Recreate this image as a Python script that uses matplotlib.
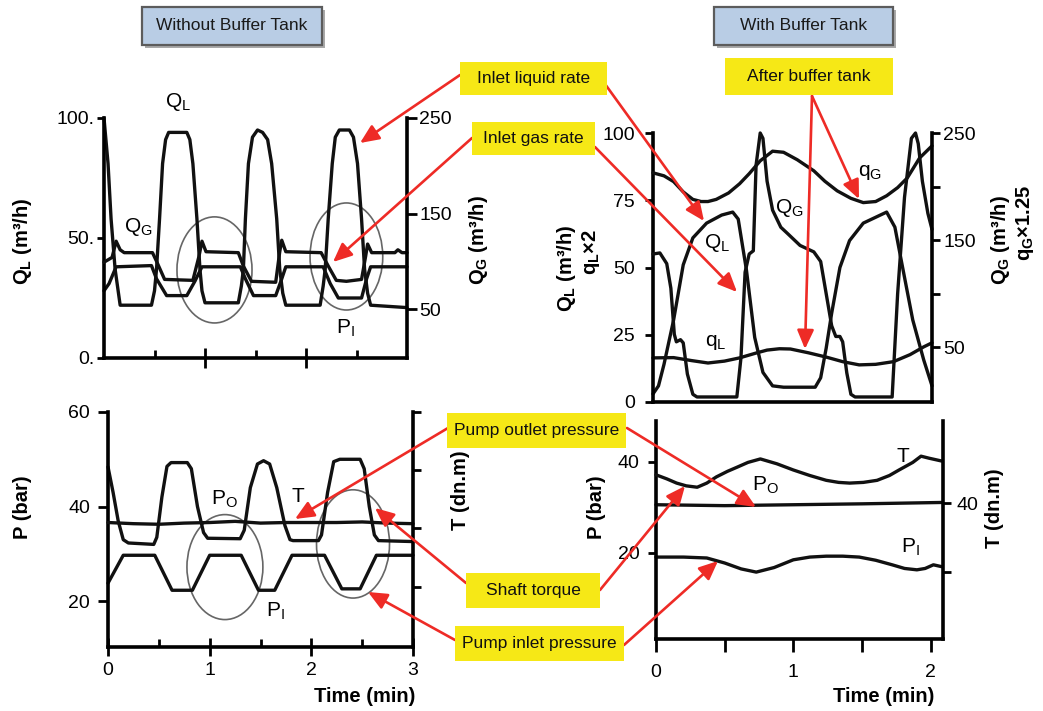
import matplotlib
matplotlib.use('Agg')
import matplotlib.pyplot as plt
from matplotlib.patches import Ellipse, Rectangle, FancyArrowPatch

plt.rcParams['font.family'] = ['Liberation Sans', 'DejaVu Sans']
plt.rcParams['mathtext.fontset'] = 'custom'
plt.rcParams['mathtext.rm'] = 'Liberation Sans'
plt.rcParams['mathtext.it'] = 'Liberation Sans:italic'
plt.rcParams['mathtext.bf'] = 'Liberation Sans:bold'

# ---------------- data: top-left (without buffer tank) ----------------
tl_ql_t = [0.0, 0.04, 0.07, 0.11, 0.16, 0.47, 0.50, 0.52, 0.55, 0.58, 0.61, 0.64, 0.82, 0.85,
           0.88, 0.92, 0.95, 0.97, 1.0, 1.33, 1.36, 1.38, 1.40, 1.43, 1.47, 1.52, 1.57, 1.62,
           1.66, 1.71, 1.74, 1.77, 1.80, 2.14, 2.17, 2.19, 2.22, 2.26, 2.29, 2.33, 2.43, 2.47,
           2.51, 2.55, 2.58, 2.61, 2.64, 3.0]
tl_ql = [100, 81, 58, 37, 22, 22, 28, 37, 58, 81, 91, 94, 94, 91,
         81, 58, 37, 28, 23, 23, 30, 37, 58, 81, 92, 95, 94, 91,
         81, 58, 37, 27, 22, 22, 30, 37, 58, 81, 92, 95, 95, 92,
         81, 58, 37, 27, 22, 21]
tl_qg_t = [0.0, 0.08, 0.12, 0.16, 0.20, 0.48, 0.52, 0.60, 0.88, 0.94, 0.97, 1.01, 1.33, 1.38,
           1.46, 1.70, 1.74, 1.76, 1.80, 2.15, 2.22, 2.30, 2.40, 2.55, 2.59, 2.61, 2.65, 2.88,
           2.91, 2.95, 3.0]
tl_qg = [99, 104, 121, 112, 109, 109, 100, 81, 80, 105, 121, 110, 109, 95,
         79, 78, 110, 122, 110, 109, 95, 80, 79, 81, 105, 118, 109, 109,
         112, 109, 109]
tl_pi_t = [0.0, 0.05, 0.12, 0.47, 0.52, 0.62, 0.82, 0.90, 0.97, 1.35, 1.40, 1.48, 1.70, 1.76,
           1.80, 2.17, 2.24, 2.32, 2.55, 2.60, 2.64, 3.0]
tl_pi = [28, 31, 38, 38.5, 33, 26, 26, 32, 38, 38, 33, 26, 26, 33,
         38, 38, 31, 25, 25, 33, 38, 38]

# ---------------- data: bottom-left ----------------
bl_po_t = [0.0, 0.05, 0.10, 0.15, 0.20, 0.45, 0.48, 0.53, 0.58, 0.62, 0.78, 0.82, 0.88, 0.94,
           0.98, 1.30, 1.34, 1.40, 1.47, 1.53, 1.59, 1.66, 1.74, 1.79, 1.82, 2.07, 2.10, 2.16,
           2.22, 2.28, 2.48, 2.52, 2.57, 2.62, 2.66, 3.0]
bl_po = [48.4, 43, 37, 33, 32.3, 32.0, 33.5, 42, 48.5, 49.3, 49.3, 48, 40, 34.5,
         33.3, 33.2, 35, 44, 49, 49.7, 49, 44, 36, 33, 32.8, 32.8, 34, 43,
         49.5, 50, 50, 48, 40, 34, 32.8, 32.6]
bl_pi_t = [0.0, 0.15, 0.46, 0.63, 0.83, 1.0, 1.31, 1.48, 1.64, 1.81, 2.13, 2.30, 2.48, 2.64, 3.0]
bl_pi = [23.8, 29.7, 29.7, 22.3, 22.3, 29.7, 29.7, 22.3, 22.3, 29.7, 29.7, 22.6, 22.6, 29.7, 29.7]
bl_T_t = [0.0, 0.25, 0.5, 0.75, 1.0, 1.25, 1.5, 1.75, 2.0, 2.25, 2.5, 2.75, 3.0]
bl_T = [31.0, 30.8, 30.7, 30.9, 31.0, 31.2, 30.9, 31.0, 31.0, 31.0, 31.1, 30.9, 30.8]

# ---------------- data: top-right (with buffer tank) ----------------
tr_QL_t = [0.0, 0.04, 0.08, 0.15, 0.22, 0.29, 0.39, 0.50, 0.58, 0.62, 0.68, 0.74, 0.80, 0.87,
           0.95, 1.18, 1.22, 1.26, 1.30, 1.36, 1.43, 1.53, 1.70, 1.76, 1.82, 1.89, 1.97, 2.03]
tr_QL = [3, 6, 14, 30.5, 51, 61, 66.5, 69.5, 70.6, 68, 49, 24, 11, 6,
         5.5, 5.5, 9, 20, 33, 50, 60, 66.5, 70.6, 65, 49, 30.5, 15.6, 6]
tr_QG_t = [0.0, 0.05, 0.10, 0.13, 0.155, 0.17, 0.20, 0.22, 0.25, 0.29, 0.32, 0.61, 0.64, 0.67,
           0.70, 0.73, 0.75, 0.78, 0.80, 0.83, 0.87, 0.93, 0.98, 1.07, 1.17, 1.22, 1.26, 1.30,
           1.33, 1.36, 1.38, 1.41, 1.44, 1.47, 1.74, 1.78, 1.83, 1.88, 1.91, 1.93, 1.96, 2.0, 2.03]
tr_QG = [137, 138, 128, 105, 62, 55, 57, 54, 25, 6, 3.5, 3.5, 40, 120,
         137, 140, 220, 250, 245, 205, 178, 162, 156, 145, 139, 130, 100, 70,
         60, 60, 55, 26, 6, 3.5, 3.5, 100, 190, 245, 250, 240, 205, 175, 160]
tr_qL_t = [0.0, 0.15, 0.28, 0.40, 0.52, 0.63, 0.75, 0.83, 0.92, 1.0, 1.13, 1.26, 1.38, 1.50,
           1.62, 1.75, 1.87, 1.97, 2.03]
tr_qL = [16.4, 16.5, 15.4, 14.5, 15.2, 16.4, 18.2, 19.3, 19.8, 19.7, 18.3, 16.7, 15.0, 13.8,
         14.0, 15.0, 17.6, 20.5, 22]
tr_qG_t = [0.0, 0.08, 0.15, 0.22, 0.29, 0.35, 0.40, 0.46, 0.55, 0.63, 0.70, 0.78, 0.87, 0.95,
           1.05, 1.17, 1.25, 1.34, 1.44, 1.53, 1.62, 1.70, 1.78, 1.85, 1.94, 2.03]
tr_qG = [212.8, 210, 204.6, 195, 188, 186, 186, 188, 194, 202.6, 212, 224, 233, 232,
         225, 214.7, 205, 196, 189, 185, 186, 191.4, 199, 208, 226.7, 238]

# ---------------- data: bottom-right ----------------
br_T_t = [0.0, 0.08, 0.15, 0.22, 0.30, 0.37, 0.44, 0.52, 0.59, 0.67, 0.76, 0.88, 1.0, 1.12,
          1.24, 1.33, 1.41, 1.51, 1.61, 1.70, 1.77, 1.87, 1.93, 1.99, 2.08]
br_T = [44.1, 43.5, 42.9, 42.5, 42.3, 42.9, 43.8, 44.6, 45.2, 45.9, 46.4, 45.7, 44.8, 44.0,
        43.3, 43.0, 42.9, 43.0, 43.3, 44.0, 44.8, 45.9, 46.8, 46.5, 46.1]
br_po_t = [0.0, 0.5, 1.0, 1.5, 2.08]
br_po = [30.6, 30.4, 30.6, 30.8, 31.1]
br_pi_t = [0.0, 0.20, 0.37, 0.50, 0.62, 0.73, 0.86, 1.0, 1.12, 1.24, 1.36, 1.48, 1.60, 1.72,
           1.81, 1.90, 1.96, 2.02, 2.08]
br_pi = [19.1, 19.1, 18.9, 17.8, 16.5, 15.8, 16.8, 18.5, 19.1, 19.3, 19.3, 19.1, 18.4, 17.4,
         16.6, 16.3, 16.6, 17.4, 17.0]

# ---------------- layout helpers ----------------
W, H = 1043, 711
fig = plt.figure(figsize=(W / 100, H / 100), dpi=100)
LINE = dict(color='#111111', lw=2.4, clip_on=False, solid_joinstyle='round', solid_capstyle='round')
TICKFS = 14
LABFS = 14.5


def rect(left, top, right, bottom):
    return [left / W, 1 - bottom / H, (right - left) / W, (bottom - top) / H]


def ftxt(x, y, s, **kw):
    kw.setdefault('ha', 'center')
    kw.setdefault('va', 'center')
    fig.text(x / W, 1 - y / H, s, **kw)


def base_style(ax, twin):
    ax.spines['top'].set_visible(False)
    ax.spines['right'].set_visible(False)
    for s in ('left', 'bottom'):
        ax.spines[s].set_linewidth(2.6)
    for s in ('top', 'left', 'bottom'):
        twin.spines[s].set_visible(False)
    twin.spines['right'].set_linewidth(2.6)
    ax.patch.set_visible(False)
    twin.patch.set_visible(False)


# ================= top-left =================
ax1 = fig.add_axes(rect(104, 118, 407, 358))
ax1r = ax1.twinx()
base_style(ax1, ax1r)
ax1.set_xlim(0, 3)
ax1.set_ylim(0, 100)
ax1r.set_ylim(-1.3, 250)
ax1.plot(tl_ql_t, tl_ql, **LINE)
ax1.plot(tl_pi_t, tl_pi, **LINE)
ax1r.plot(tl_qg_t, tl_qg, **LINE)
ax1.set_yticks([0, 50, 100], ['0.', '50.', '100.'])
ax1.tick_params(axis='y', direction='out', length=5, width=2, labelsize=TICKFS, pad=2)
ax1.set_xticks([1, 2], ['', ''])
ax1.set_xticks([0.5, 1.5, 2.5], minor=True)
ax1.tick_params(axis='x', which='major', direction='inout', length=14, width=2)
ax1.tick_params(axis='x', which='minor', direction='in', length=6, width=2)
ax1r.set_yticks([50, 150, 250], ['50', '150', '250'])
ax1r.tick_params(axis='y', direction='out', length=7, width=2, labelsize=TICKFS, pad=2)
ax1.add_patch(Ellipse((1.094, 36.7), 0.743, 44.2, fill=False, ec='#666666', lw=1.2, clip_on=False))
ax1.add_patch(Ellipse((2.40, 42.3), 0.72, 44.6, fill=False, ec='#666666', lw=1.2, clip_on=False))
ftxt(178, 102, r'Q$_\mathregular{L}$', fontsize=15)
ftxt(138, 227, r'Q$_\mathregular{G}$', fontsize=15)
ftxt(345, 328, r'P$_\mathregular{I}$', fontsize=15)
ftxt(23, 241, r'Q$_\mathregular{L}$ (m³/h)', fontsize=LABFS, fontweight='bold', rotation=90)
ftxt(478, 240, r'Q$_\mathregular{G}$ (m³/h)', fontsize=LABFS, fontweight='bold', rotation=90)

# ================= bottom-left =================
ax2 = fig.add_axes(rect(108, 412, 413, 647))
ax2r = ax2.twinx()
base_style(ax2, ax2r)
ax2.set_xlim(0, 3)
ax2.set_ylim(10.3, 60)
ax2r.set_ylim(9.6, 50)
ax2.plot(bl_po_t, bl_po, **LINE)
ax2.plot(bl_pi_t, bl_pi, **LINE)
ax2r.plot(bl_T_t, bl_T, **LINE)
ax2.set_yticks([20, 40, 60])
ax2.tick_params(axis='y', direction='out', length=7, width=2, labelsize=TICKFS, pad=6)
ax2.set_xticks([0, 1, 2, 3])
ax2.set_xticks([0.5, 1.5, 2.5], minor=True)
ax2.tick_params(axis='x', which='major', direction='inout', length=13, width=2, labelsize=TICKFS, pad=4)
ax2.tick_params(axis='x', which='minor', direction='in', length=6, width=2)
ax2r.set_yticks([20, 30, 40, 50], ['', '', '', ''])
ax2r.tick_params(axis='y', direction='out', length=6, width=2)
ax2.add_patch(Ellipse((1.15, 27.2), 0.747, 22.2, fill=False, ec='#666666', lw=1.2, clip_on=False))
ax2.add_patch(Ellipse((2.41, 32.1), 0.718, 22.9, fill=False, ec='#666666', lw=1.2, clip_on=False))
ftxt(224, 499, r'P$_\mathregular{O}$', fontsize=15)
ftxt(298, 496, 'T', fontsize=15)
ftxt(275, 611, r'P$_\mathregular{I}$', fontsize=15)
ftxt(23, 507, 'P (bar)', fontsize=LABFS, fontweight='bold', rotation=90)
ftxt(460, 490, 'T (dn.m)', fontsize=LABFS, fontweight='bold', rotation=90)
ftxt(365, 696, 'Time (min)', fontsize=LABFS, fontweight='bold')

# ================= top-right =================
ax3 = fig.add_axes(rect(653, 133, 932, 402))
ax3r = ax3.twinx()
base_style(ax3, ax3r)
ax3.set_xlim(0, 2.03)
ax3.set_ylim(0, 100)
ax3r.set_ylim(-1.2, 249)
ax3.plot(tr_QL_t, tr_QL, **LINE)
ax3.plot(tr_qL_t, tr_qL, **LINE)
ax3r.plot(tr_QG_t, tr_QG, **LINE)
ax3r.plot(tr_qG_t, tr_qG, **LINE)
ax3.set_xticks([])
ax3.set_yticks([0, 25, 50, 75, 100])
ax3.tick_params(axis='y', direction='out', length=6, width=2, labelsize=TICKFS, pad=7)
ax3r.set_yticks([50, 100, 150, 200, 250], ['50', '', '150', '', '250'])
ax3r.tick_params(axis='y', direction='out', length=6, width=2, labelsize=TICKFS, pad=2)
ftxt(870, 172, r'q$_\mathregular{G}$', fontsize=15)
ftxt(789, 208, r'Q$_\mathregular{G}$', fontsize=15)
ftxt(717, 243, r'Q$_\mathregular{L}$', fontsize=15)
ftxt(716, 343, r'q$_\mathregular{L}$', fontsize=15)
ftxt(567, 268, r'Q$_\mathregular{L}$ (m³/h)', fontsize=LABFS, fontweight='bold', rotation=90)
ftxt(591, 252, r'q$_\mathregular{L}$×2', fontsize=LABFS, fontweight='bold', rotation=90)
ftxt(1000, 240, r'Q$_\mathregular{G}$ (m³/h)', fontsize=LABFS, fontweight='bold', rotation=90)
ftxt(1025, 223, r'q$_\mathregular{G}$×1.25', fontsize=LABFS, fontweight='bold', rotation=90)

# ================= bottom-right =================
ax4 = fig.add_axes(rect(656, 421, 943, 639))
ax4r = ax4.twinx()
base_style(ax4, ax4r)
ax4.set_xlim(0, 2.09)
ax4.set_ylim(1.1, 49)
ax4r.set_ylim(20.3, 51.9)
ax4.plot(br_po_t, br_po, **LINE)
ax4.plot(br_pi_t, br_pi, **LINE)
ax4r.plot(br_T_t, br_T, **LINE)
ax4.set_yticks([20, 40])
ax4.tick_params(axis='y', direction='out', length=6, width=2, labelsize=TICKFS, pad=6)
ax4.set_xticks([0, 1, 2])
ax4.set_xticks([0.5, 1.5], minor=True)
ax4.tick_params(axis='x', which='both', direction='out', length=9, width=2, labelsize=TICKFS, pad=9)
ax4r.set_yticks([30, 40], ['', '40'])
ax4r.tick_params(axis='y', direction='out', length=6, width=2, labelsize=TICKFS, pad=4)
ftxt(765, 485, r'P$_\mathregular{O}$', fontsize=15)
ftxt(903, 456, 'T', fontsize=15)
ftxt(910, 547, r'P$_\mathregular{I}$', fontsize=15)
ftxt(596, 507, 'P (bar)', fontsize=LABFS, fontweight='bold', rotation=90)
ftxt(995, 508, 'T (dn.m)', fontsize=LABFS, fontweight='bold', rotation=90)
ftxt(884, 696, 'Time (min)', fontsize=LABFS, fontweight='bold')

# ================= overlay: title boxes, callouts, arrows =================
ov = fig.add_axes([0, 0, 1, 1], zorder=20)
ov.set_xlim(0, W)
ov.set_ylim(H, 0)
ov.axis('off')

YEL = '#f6e816'
RED = '#ee2b26'


def title_box(x0, y0, x1, y1, s):
    ov.add_patch(Rectangle((x0 + 3, y0 + 3), x1 - x0, y1 - y0, fc='#a9a9a9', ec='none'))
    ov.add_patch(Rectangle((x0, y0), x1 - x0, y1 - y0, fc='#b9cde5', ec='#5c5c5c', lw=1.6))
    ov.text((x0 + x1) / 2, (y0 + y1) / 2, s, ha='center', va='center', fontsize=12.5, color='#1a1a1a')


def ybox(x0, y0, x1, y1, s):
    ov.add_patch(Rectangle((x0, y0), x1 - x0, y1 - y0, fc=YEL, ec='none'))
    ov.text((x0 + x1) / 2, (y0 + y1) / 2, s, ha='center', va='center', fontsize=12.5, color='#111111')


def arrow(x0, y0, x1, y1):
    ov.add_patch(FancyArrowPatch((x0, y0), (x1, y1),
                                 arrowstyle='-|>,head_length=0.95,head_width=0.42',
                                 mutation_scale=12, color=RED, lw=1.9,
                                 shrinkA=0, shrinkB=0))


title_box(142, 7, 322, 45, 'Without Buffer Tank')
title_box(714, 7, 893, 45, 'With Buffer Tank')

arrow(460, 75, 360, 143)
arrow(605, 84, 704, 221)
arrow(472, 138, 333, 262)
arrow(595, 147, 737, 292)
arrow(812, 96, 859, 199)
arrow(812, 96, 805, 349)
arrow(448, 428, 295, 519)
arrow(627, 428, 756, 507)
arrow(466, 583, 375, 508)
arrow(600, 590, 685, 486)
arrow(455, 640, 368, 592)
arrow(624, 645, 718, 561)

ybox(460, 62, 607, 95, 'Inlet liquid rate')
ybox(472, 122, 595, 155, 'Inlet gas rate')
ybox(725, 58, 893, 95, 'After buffer tank')
ybox(447, 413, 626, 448, 'Pump outlet pressure')
ybox(466, 573, 600, 608, 'Shaft torque')
ybox(455, 626, 624, 661, 'Pump inlet pressure')

fig.savefig('out.png', dpi=100)
